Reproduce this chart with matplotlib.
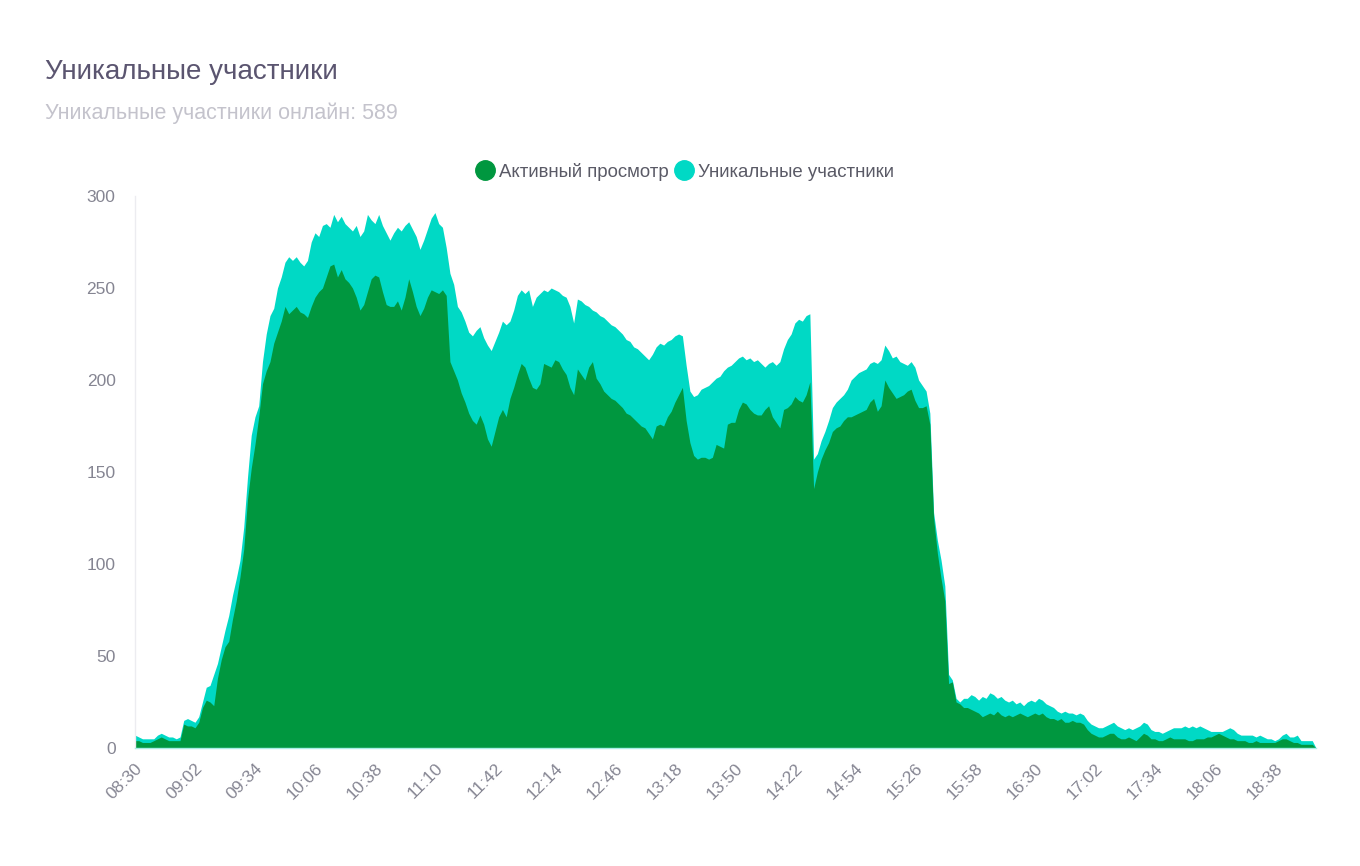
import matplotlib
matplotlib.use("Agg")
import matplotlib.pyplot as plt
from matplotlib.lines import Line2D
import numpy as np

plt.rcParams['font.family'] = ['Liberation Sans', 'DejaVu Sans']

title = "Уникальные участники"
subtitle = "Уникальные участники онлайн: 589"
series_names = ["Активный просмотр", "Уникальные участники"]

start_time = "08:30"
step_minutes = 2

tick_labels = ["08:30", "09:02", "09:34", "10:06", "10:38", "11:10", "11:42",
               "12:14", "12:46", "13:18", "13:50", "14:22", "14:54", "15:26",
               "15:58", "16:30", "17:02", "17:34", "18:06", "18:38"]

unique_participants = [
    7, 6, 5, 5, 5, 5, 7, 8, 7, 6, 6, 5, 6, 15, 16,
    15, 14, 17, 25, 33, 34, 40, 46, 55, 64, 72, 83, 92, 102, 120,
    147, 170, 180, 186, 210, 225, 235, 239, 250, 256, 264, 267, 265, 267, 264,
    262, 265, 275, 280, 278, 284, 285, 283, 290, 286, 289, 285, 283, 281, 284,
    278, 281, 290, 287, 285, 290, 284, 280, 276, 280, 283, 281, 284, 286, 282,
    278, 271, 276, 282, 288, 291, 285, 283, 272, 258, 252, 240, 237, 232, 226,
    224, 227, 229, 223, 219, 216, 221, 226, 232, 230, 232, 238, 246, 249, 247,
    249, 240, 245, 247, 249, 248, 250, 249, 248, 246, 245, 240, 231, 244, 243,
    241, 240, 238, 237, 235, 234, 232, 230, 229, 227, 225, 222, 221, 218, 217,
    215, 213, 211, 214, 218, 220, 219, 221, 222, 224, 225, 224, 208, 194, 191,
    192, 195, 196, 197, 199, 201, 202, 205, 207, 208, 210, 212, 213, 211, 212,
    210, 211, 209, 207, 209, 210, 208, 210, 217, 222, 225, 231, 233, 232, 235,
    236, 157, 160, 167, 172, 178, 185, 188, 190, 192, 195, 200, 202, 204, 205,
    206, 209, 210, 209, 211, 219, 216, 212, 213, 210, 209, 208, 210, 207, 200,
    197, 194, 182, 128, 113, 102, 88, 40, 37, 27, 25, 27, 27, 29, 28,
    26, 28, 27, 30, 29, 27, 28, 26, 25, 26, 24, 25, 23, 25, 26,
    25, 27, 26, 24, 23, 22, 20, 19, 20, 19, 19, 18, 19, 18, 15,
    13, 12, 11, 11, 12, 13, 14, 12, 11, 10, 11, 10, 11, 12, 14,
    13, 10, 9, 9, 8, 9, 10, 11, 11, 11, 12, 11, 12, 11, 12,
    11, 10, 9, 9, 9, 9, 10, 11, 10, 8, 7, 7, 7, 7, 6,
    7, 6, 5, 5, 4, 5, 7, 8, 6, 6, 7, 4, 4, 4, 4,
    0,
]

active_view = [
    4, 4, 3, 3, 3, 4, 5, 6, 5, 4, 4, 4, 4, 13, 12,
    12, 11, 14, 22, 26, 25, 23, 38, 48, 55, 58, 70, 80, 93, 108,
    135, 152, 165, 180, 198, 205, 210, 220, 226, 232, 240, 236, 238, 240, 237,
    236, 234, 240, 245, 248, 250, 256, 262, 263, 256, 260, 255, 253, 250, 245,
    238, 241, 248, 255, 257, 256, 248, 241, 240, 240, 243, 238, 245, 255, 248,
    240, 235, 239, 245, 249, 248, 247, 249, 246, 210, 205, 200, 193, 188, 182,
    178, 176, 181, 176, 168, 164, 172, 180, 184, 180, 190, 196, 203, 209, 207,
    201, 196, 195, 198, 209, 208, 207, 211, 210, 206, 203, 196, 192, 206, 203,
    200, 207, 210, 201, 198, 194, 192, 190, 189, 187, 185, 182, 181, 179, 177,
    175, 174, 171, 168, 175, 176, 175, 180, 183, 188, 192, 196, 178, 166, 159,
    157, 158, 158, 157, 158, 165, 164, 163, 176, 177, 177, 184, 188, 187, 184,
    182, 181, 181, 184, 186, 180, 177, 174, 184, 185, 187, 191, 189, 188, 192,
    199, 141, 150, 157, 162, 166, 172, 174, 175, 178, 180, 180, 181, 182, 183,
    184, 188, 190, 183, 186, 200, 196, 193, 190, 191, 192, 194, 195, 189, 185,
    185, 186, 176, 125, 106, 92, 80, 35, 36, 25, 24, 22, 22, 21, 20,
    19, 17, 18, 19, 18, 20, 18, 17, 18, 17, 18, 19, 18, 17, 18,
    19, 18, 19, 17, 16, 16, 15, 16, 14, 14, 15, 14, 14, 13, 10,
    8, 7, 6, 6, 7, 8, 8, 6, 5, 5, 6, 5, 4, 6, 8,
    7, 5, 5, 4, 4, 5, 6, 5, 5, 5, 5, 4, 4, 5, 5,
    5, 6, 6, 7, 8, 7, 6, 5, 5, 4, 4, 4, 3, 3, 4,
    3, 3, 3, 3, 3, 4, 5, 5, 4, 3, 3, 2, 2, 2, 2,
    0,
]

GREEN = "#00973F"
TEAL = "#00D9C5"


def to_min(s):
    h, m = s.split(":")
    return int(h) * 60 + int(m)


t0 = to_min(start_time)
x = np.arange(len(unique_participants)) * step_minutes
tick_pos = [to_min(s) - t0 for s in tick_labels]

fig = plt.figure(figsize=(13.6, 8.66), dpi=100)
ax = fig.add_axes([135 / 1360, 1 - 748 / 866, (1316 - 135) / 1360, (748 - 196) / 866])

ax.fill_between(x, 0, unique_participants, color=TEAL, linewidth=0)
ax.fill_between(x, 0, active_view, color=GREEN, linewidth=0)

ax.set_xlim(0, x[-1])
ax.set_ylim(0, 300)
ax.set_yticks([0, 50, 100, 150, 200, 250, 300])
ax.tick_params(axis='y', length=0, pad=14, labelsize=12.5, labelcolor="#858592")
ax.set_xticks(tick_pos)
ax.set_xticklabels(tick_labels, rotation=45, ha='right', rotation_mode='anchor')
ax.tick_params(axis='x', length=0, pad=9, labelsize=12.5, labelcolor="#858592")

for s in ['top', 'right']:
    ax.spines[s].set_visible(False)
ax.spines['left'].set_color("#ececf0")
ax.spines['left'].set_linewidth(1)
ax.spines['bottom'].set_color("#a8eee6")
ax.spines['bottom'].set_linewidth(1)

fig.text(45 / 1360, 1 - 72 / 866, title, fontsize=20, color="#5b5570",
         ha='left', va='center')
fig.text(45 / 1360, 1 - 113 / 866, subtitle, fontsize=15.5, color="#c4c3cc",
         ha='left', va='center')

handles = [Line2D([0], [0], marker='o', linestyle='', markersize=14,
                  markerfacecolor=GREEN, markeredgecolor=GREEN),
           Line2D([0], [0], marker='o', linestyle='', markersize=14,
                  markerfacecolor=TEAL, markeredgecolor=TEAL)]
leg = fig.legend(handles, series_names, loc='center', ncol=2,
                 bbox_to_anchor=(685 / 1360, 1 - 172 / 866), frameon=False,
                 fontsize=13.4, handletextpad=0.25, columnspacing=0.3,
                 handlelength=1.0, borderaxespad=0)
for txt in leg.get_texts():
    txt.set_color("#5a5a66")

fig.savefig("out.png", dpi=100, facecolor="white")
